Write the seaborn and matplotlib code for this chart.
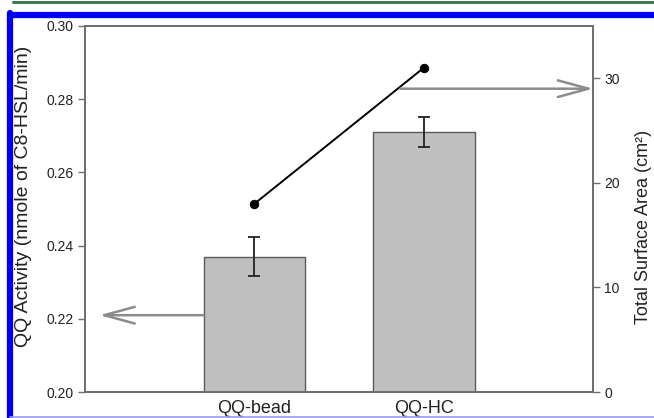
import matplotlib
matplotlib.use("Agg")
import matplotlib.pyplot as plt
import seaborn as sns
import pandas as pd
from matplotlib.lines import Line2D

categories = ["QQ-bead", "QQ-HC"]
qq_activity = [0.237, 0.271]
qq_error = [0.0053, 0.0042]
surface_area = [18, 31]
left_ticks = [0.20, 0.22, 0.24, 0.26, 0.28, 0.30]
right_ticks = [0, 10, 20, 30]

sns.set_theme(style="white")
plt.rcParams["font.family"] = ["Liberation Sans", "DejaVu Sans"]

df = pd.DataFrame({"cat": categories, "act": qq_activity, "area": surface_area})

fig = plt.figure(figsize=(6.54, 4.18), dpi=100)
ax = fig.add_axes([0.130, 0.062, 0.777, 0.876])

sns.barplot(data=df, x="cat", y="act", ax=ax, color="#c0c0c0", width=0.6,
            edgecolor="#5a5a5a", linewidth=1.0, errorbar=None, saturation=1)
ax.errorbar(range(len(categories)), qq_activity, yerr=qq_error, fmt="none",
            ecolor="#222222", elinewidth=1.3, capsize=4, capthick=1.3)
ax.set_ylim(0.20, 0.30)
ax.set_xlim(-1, 2)
ax.set_yticks(left_ticks)
ax.set_yticklabels([f"{t:.2f}" for t in left_ticks])
ax.set_xlabel("")
ax.set_ylabel("QQ Activity (nmole of C8-HSL/min)", fontsize=14, color="#222222")
ax.yaxis.set_label_coords(-0.104, 0.535)

ax2 = ax.twinx()
sns.lineplot(data=df, x="cat", y="area", ax=ax2, color="black", marker="o",
             markersize=6, linewidth=1.4, markeredgecolor="black")
ax2.set_ylim(0, 35)
ax2.set_yticks(right_ticks)
ax2.set_xlim(-1, 2)
ax2.set_ylabel("Total Surface Area (cm²)", fontsize=13, color="#222222")
ax2.yaxis.set_label_coords(1.082, 0.45)

for a in (ax, ax2):
    for s in a.spines.values():
        s.set_color("#707070")
        s.set_linewidth(1.4)
    a.tick_params(axis="y", direction="out", length=5, width=1.0, color="#707070",
                  labelsize=10, labelcolor="#222222", pad=3)
ax.tick_params(axis="x", length=0, labelsize=13, labelcolor="#222222", pad=6)

arrow_kw = dict(arrowstyle="->,head_length=2.2,head_width=0.6", color="#8c8c8c",
                lw=1.8, mutation_scale=10, shrinkA=0, shrinkB=0)
# left arrow points to left axis
ax.annotate("", xy=(-0.915, 0.221), xytext=(-0.3, 0.221), arrowprops=arrow_kw)
# right arrow points to right axis
ax2.annotate("", xy=(2.0, 29.0), xytext=(0.86, 29.0), arrowprops=arrow_kw)

# decorative frame
fig.add_artist(Line2D([13/654, 1.0], [1 - 2/418, 1 - 2/418], transform=fig.transFigure,
                      color="#3d7a55", lw=2.2))
fig.add_artist(Line2D([10/654, 1.0], [1 - 14.5/418, 1 - 14.5/418], transform=fig.transFigure,
                      color="#0000f0", lw=4.5))
fig.add_artist(Line2D([10/654, 10/654], [0, 1 - 12.5/418], transform=fig.transFigure,
                      color="#0000f0", lw=4.5))
fig.add_artist(Line2D([10/654, 1.0], [1.5/418, 1.5/418], transform=fig.transFigure,
                      color="#9a9af0", lw=1.2))

fig.savefig("out.png", dpi=100)
